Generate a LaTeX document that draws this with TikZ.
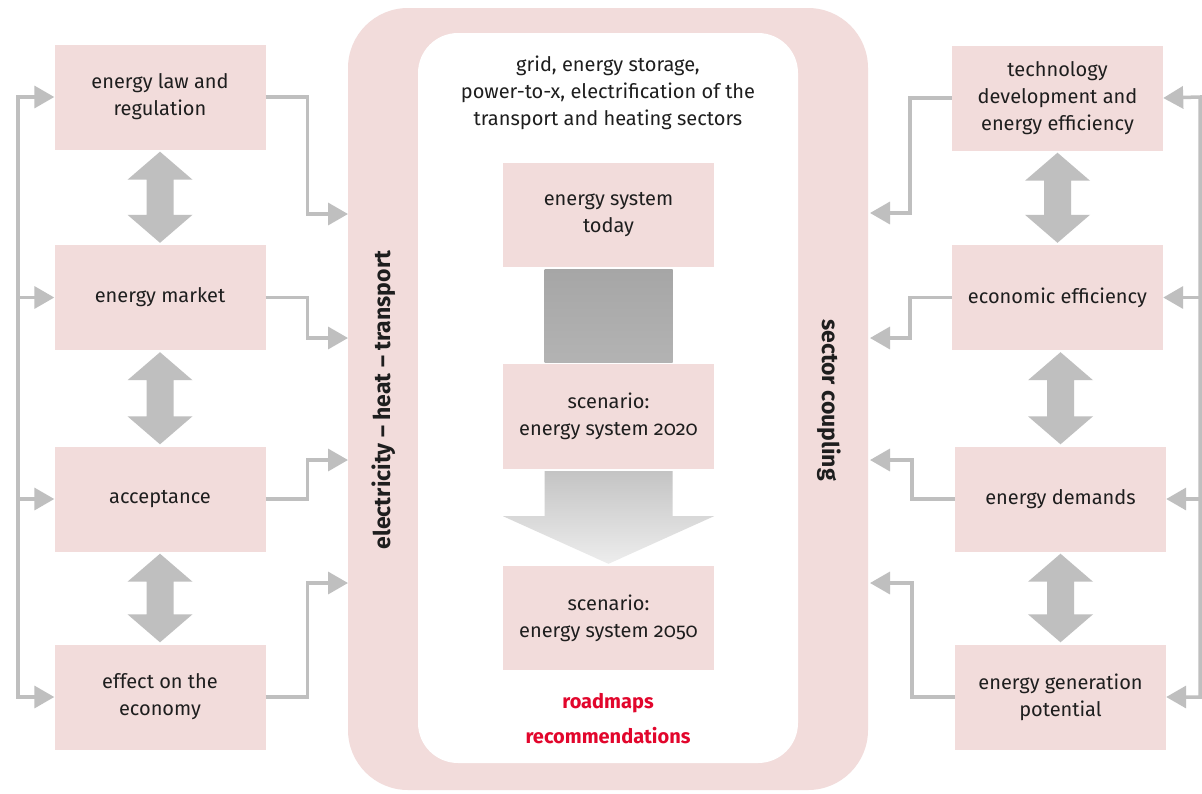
\documentclass[tikz,border=0pt]{standalone}
\usepackage{fontspec}
\setmainfont{Fira Sans}[Numbers=OldStyle]
\usetikzlibrary{arrows.meta,calc}
\definecolor{boxpink}{HTML}{F2DCDB}
\definecolor{agray}{HTML}{BFBFBF}
\definecolor{redtxt}{HTML}{E2062C}
\definecolor{txt}{HTML}{1E1E1E}
\definecolor{gA}{HTML}{A6A6A6}
\definecolor{gB}{HTML}{B3B3B3}
\definecolor{gC}{HTML}{C4C4C4}
\definecolor{gD}{HTML}{EDEDED}
\newcommand\dblarr[2]{%
  \fill[agray] ($(#1.south)+(0,2)$) -- ++(32.5,28) -- ++(-19,0)
    -- ($(#1.south |- #2.north)+(13.5,-30)$) -- ++(19,0) -- ($(#1.south |- #2.north)+(0,-2)$)
    -- ++(-32.5,-28) -- ++(19,0) -- ($(#1.south)+(-13.5,30)$) -- ++(-19,0) -- cycle;}
\begin{document}
\begin{tikzpicture}[x=1pt,y=-1pt,
  box/.style={rectangle,fill=boxpink,minimum width=211pt,minimum height=105pt,
    align=center,font=\fontsize{20}{27}\selectfont,text=txt,inner sep=2pt},
  conn/.style={draw=agray,line width=3.5pt,-{Triangle[length=20pt,width=22pt]}},
  both/.style={draw=agray,line width=3.5pt,{Triangle[length=20pt,width=22pt]}-{Triangle[length=20pt,width=22pt]}},
  lbl/.style={font=\fontsize{20}{27}\selectfont,text=txt,align=center},
  redlbl/.style={font=\bfseries\fontsize{20}{27}\selectfont,text=redtxt},
  rotlbl/.style={font=\bfseries\fontsize{23}{28}\selectfont,text=txt}]
\useasboundingbox (0,0) rectangle (1202,793);
\fill[white] (0,0) rectangle (1202,793);

% central container
\node[rectangle,fill=boxpink,rounded corners=60pt,minimum width=520pt,minimum height=782pt] (outer) at (608,399) {};
\node[rectangle,fill=white,rounded corners=40pt,minimum width=380pt,minimum height=730pt] (inner) at (608,398) {};

\node[rotlbl,rotate=90] (ehl) at (384,400) {electricity – heat – transport};
\node[rotlbl,rotate=-90] (scl) at (829,400) {sector coupling};

\node[lbl] (desc) at (608,93) {grid, energy storage,\\power-to-x, electrification of the\\transport and heating sectors};

% central boxes
\node[box,minimum height=104pt] (c1) at (608.5,215) {energy system\\today};
\node[box] (c2) at (608.5,416.5) {scenario:\\energy system 2020};
\node[box,minimum height=104pt] (c3) at (608.5,618) {scenario:\\energy system 2050};

\shade[top color=gA,bottom color=gB] ($(c1.south)+(-64,2)$) rectangle ($(c2.north)+(64,-1)$);
\shade[top color=gC,bottom color=gD] ($(c2.south)+(-64,2)$) -- ($(c2.south)+(64,2)$)
  -- ($(c2.south)+(64,47)$) -- ($(c2.south)+(105.5,47)$) -- ($(c3.north)+(0,-2)$)
  -- ($(c2.south)+(-105.5,47)$) -- ($(c2.south)+(-64,47)$) -- cycle;

\node[redlbl] (road) at (608,703) {roadmaps};
\node[redlbl] (reco) at (608,736) {recommendations};

% left boxes
\node[box] (l1) at (160,97) {energy law and\\regulation};
\node[box] (l2) at (160,297.5) {energy market};
\node[box] (l3) at (160,499) {acceptance};
\node[box] (l4) at (160,697) {effect on the\\economy};

% right boxes
\node[box] (r1) at (1057.5,98) {technology\\development and\\energy efficiency};
\node[box] (r2) at (1057.5,297.5) {economic efficiency};
\node[box] (r3) at (1060.5,499) {energy demands};
\node[box] (r4) at (1060.5,697) {energy generation\\potential};

% double arrows
\dblarr{l1}{l2}
\dblarr{l2}{l3}
\dblarr{l3}{l4}
\dblarr{r1}{r2}
\dblarr{r3}{r4}
\fill[agray] ($(r3.north)+(0,-2)$) -- ++(32.5,-28) -- ++(-19,0)
    -- ($(r3.north |- r2.south)+(13.5,30)$) -- ++(19,0) -- ($(r3.north |- r2.south)+(0,2)$)
    -- ++(-32.5,28) -- ++(19,0) -- ($(r3.north)+(-13.5,-30)$) -- ++(-19,0) -- cycle;

% targets on the container
\coordinate (ta) at (348,214);
\coordinate (tb) at (348,338);
\coordinate (tc) at (348,460);
\coordinate (td) at (348,583);
\coordinate (ua) at (870,213);
\coordinate (ub) at (870,338);
\coordinate (uc) at (870,460);
\coordinate (ud) at (870,583);

\draw[conn] (l1.east) -- ++(42,0) |- (ta);
\draw[conn] (l2.east) -- ++(42,0) |- (tb);
\draw[conn] (l3.east) -- ++(42,0) |- (tc);
\draw[conn] (l4.east) -- ++(42,0) |- (td);
\draw[conn] (r1.west) -- ++(-42,0) |- (ua);
\draw[conn] (r2.west) -- ++(-42,0) |- (ub);
\draw[conn] (r3.west) -- ++(-43,0) |- (uc);
\draw[conn] (r4.west) -- ++(-43,0) |- (ud);

% feedback lines
\coordinate (fl1) at (18,97);
\coordinate (fl4) at (18,697);
\draw[both] (l4.west) -- (fl4) -- (fl1) -- (l1.west);
\draw[conn] (fl1 |- l2.west) -- (l2.west);
\draw[conn] (fl1 |- l3.west) -- (l3.west);

\coordinate (fr1) at (1200,97);
\coordinate (fr4) at (1200,697);
\draw[both] (r4.east) -- (fr4) -- (fr1) -- (r1.east);
\draw[conn] (fr1 |- r2.east) -- (r2.east);
\draw[conn] (fr1 |- r3.east) -- (r3.east);
\end{tikzpicture}
\end{document}
